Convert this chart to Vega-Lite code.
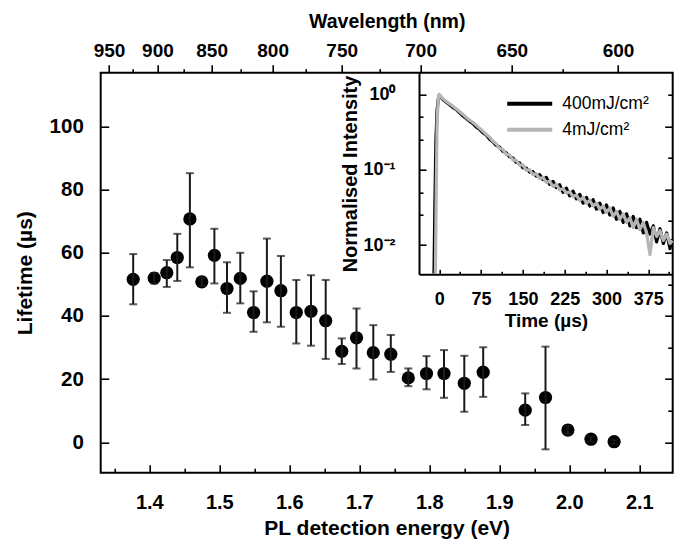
{
  "$schema": "https://vega.github.io/schema/vega-lite/v6.json",
  "width": 572,
  "height": 400,
  "autosize": "none",
  "padding": {"left": 100.7, "top": 72.7, "right": 7.3, "bottom": 71.3},
  "background": "white",
  "config": {
    "view": {"stroke": "black", "strokeWidth": 2},
    "font": "Liberation Sans",
    "axis": {
      "grid": false,
      "labelFont": "Liberation Sans",
      "titleFont": "Liberation Sans",
      "labelFontWeight": "bold",
      "titleFontWeight": "bold",
      "labelColor": "black",
      "titleColor": "black",
      "tickColor": "black",
      "domainColor": "black",
      "tickWidth": 1.6,
      "domainWidth": 2
    }
  },
  "datasets": {
    "main": [
      {"E": 1.377, "lifetime": 51.6, "lo": 43.7, "hi": 59.6},
      {"E": 1.407, "lifetime": 52.0, "lo": 50.3, "hi": 53.6},
      {"E": 1.425, "lifetime": 53.7, "lo": 49.2, "hi": 57.7},
      {"E": 1.440, "lifetime": 58.5, "lo": 51.1, "hi": 66.0},
      {"E": 1.458, "lifetime": 70.7, "lo": 55.4, "hi": 85.2},
      {"E": 1.475, "lifetime": 50.8, "lo": 49.5, "hi": 52.2},
      {"E": 1.493, "lifetime": 59.2, "lo": 50.3, "hi": 67.6},
      {"E": 1.511, "lifetime": 48.7, "lo": 41.0, "hi": 57.0},
      {"E": 1.530, "lifetime": 51.9, "lo": 44.0, "hi": 60.0},
      {"E": 1.549, "lifetime": 41.1, "lo": 35.0, "hi": 47.8},
      {"E": 1.568, "lifetime": 51.0, "lo": 38.0, "hi": 64.5},
      {"E": 1.588, "lifetime": 48.0, "lo": 36.6, "hi": 59.0},
      {"E": 1.610, "lifetime": 41.1, "lo": 31.3, "hi": 51.4},
      {"E": 1.631, "lifetime": 41.5, "lo": 30.6, "hi": 52.9},
      {"E": 1.652, "lifetime": 38.5, "lo": 26.4, "hi": 51.4},
      {"E": 1.675, "lifetime": 28.8, "lo": 24.8, "hi": 32.9},
      {"E": 1.696, "lifetime": 33.1, "lo": 23.4, "hi": 42.4},
      {"E": 1.720, "lifetime": 28.4, "lo": 19.9, "hi": 37.1},
      {"E": 1.745, "lifetime": 27.9, "lo": 22.3, "hi": 34.0},
      {"E": 1.770, "lifetime": 20.4, "lo": 17.8, "hi": 23.4},
      {"E": 1.796, "lifetime": 21.8, "lo": 16.8, "hi": 27.3},
      {"E": 1.821, "lifetime": 21.8, "lo": 14.1, "hi": 29.2},
      {"E": 1.850, "lifetime": 18.7, "lo": 9.7, "hi": 27.4},
      {"E": 1.877, "lifetime": 22.2, "lo": 14.4, "hi": 30.1},
      {"E": 1.937, "lifetime": 10.2, "lo": 5.5, "hi": 15.5},
      {"E": 1.966, "lifetime": 14.2, "lo": -2.2, "hi": 30.3},
      {"E": 1.998, "lifetime": 3.9, "lo": 2.5, "hi": 5.3},
      {"E": 2.031, "lifetime": 1.0, "lo": 0.2, "hi": 1.8},
      {"E": 2.064, "lifetime": 0.2, "lo": -0.4, "hi": 0.8}
    ],
    "decay": [
      {"series": "400mJ/cm²", "t": -9.5, "I": 0.0042},
      {"series": "400mJ/cm²", "t": -8, "I": 0.03},
      {"series": "400mJ/cm²", "t": -6, "I": 0.25},
      {"series": "400mJ/cm²", "t": -4, "I": 0.6},
      {"series": "400mJ/cm²", "t": -2, "I": 0.85},
      {"series": "400mJ/cm²", "t": 0, "I": 0.97},
      {"series": "400mJ/cm²", "t": 3, "I": 0.92},
      {"series": "400mJ/cm²", "t": 6, "I": 0.86},
      {"series": "400mJ/cm²", "t": 12, "I": 0.79},
      {"series": "400mJ/cm²", "t": 18, "I": 0.73},
      {"series": "400mJ/cm²", "t": 24, "I": 0.67},
      {"series": "400mJ/cm²", "t": 30, "I": 0.63},
      {"series": "400mJ/cm²", "t": 36, "I": 0.57},
      {"series": "400mJ/cm²", "t": 42, "I": 0.52},
      {"series": "400mJ/cm²", "t": 48, "I": 0.48},
      {"series": "400mJ/cm²", "t": 54, "I": 0.44},
      {"series": "400mJ/cm²", "t": 60, "I": 0.41},
      {"series": "400mJ/cm²", "t": 66, "I": 0.37},
      {"series": "400mJ/cm²", "t": 72, "I": 0.345},
      {"series": "400mJ/cm²", "t": 78, "I": 0.31},
      {"series": "400mJ/cm²", "t": 84, "I": 0.29},
      {"series": "400mJ/cm²", "t": 90, "I": 0.255},
      {"series": "400mJ/cm²", "t": 96, "I": 0.235},
      {"series": "400mJ/cm²", "t": 102, "I": 0.21},
      {"series": "400mJ/cm²", "t": 108, "I": 0.2},
      {"series": "400mJ/cm²", "t": 114, "I": 0.175},
      {"series": "400mJ/cm²", "t": 120, "I": 0.168},
      {"series": "400mJ/cm²", "t": 126, "I": 0.148},
      {"series": "400mJ/cm²", "t": 132, "I": 0.143},
      {"series": "400mJ/cm²", "t": 138, "I": 0.125},
      {"series": "400mJ/cm²", "t": 144, "I": 0.123},
      {"series": "400mJ/cm²", "t": 150, "I": 0.106},
      {"series": "400mJ/cm²", "t": 156, "I": 0.105},
      {"series": "400mJ/cm²", "t": 162, "I": 0.093},
      {"series": "400mJ/cm²", "t": 168, "I": 0.094},
      {"series": "400mJ/cm²", "t": 174, "I": 0.082},
      {"series": "400mJ/cm²", "t": 180, "I": 0.086},
      {"series": "400mJ/cm²", "t": 186, "I": 0.074},
      {"series": "400mJ/cm²", "t": 192, "I": 0.079},
      {"series": "400mJ/cm²", "t": 198, "I": 0.064},
      {"series": "400mJ/cm²", "t": 204, "I": 0.07},
      {"series": "400mJ/cm²", "t": 210, "I": 0.058},
      {"series": "400mJ/cm²", "t": 216, "I": 0.063},
      {"series": "400mJ/cm²", "t": 222, "I": 0.05},
      {"series": "400mJ/cm²", "t": 228, "I": 0.057},
      {"series": "400mJ/cm²", "t": 234, "I": 0.045},
      {"series": "400mJ/cm²", "t": 240, "I": 0.052},
      {"series": "400mJ/cm²", "t": 246, "I": 0.041},
      {"series": "400mJ/cm²", "t": 252, "I": 0.047},
      {"series": "400mJ/cm²", "t": 258, "I": 0.036},
      {"series": "400mJ/cm²", "t": 264, "I": 0.043},
      {"series": "400mJ/cm²", "t": 270, "I": 0.033},
      {"series": "400mJ/cm²", "t": 276, "I": 0.04},
      {"series": "400mJ/cm²", "t": 282, "I": 0.03},
      {"series": "400mJ/cm²", "t": 288, "I": 0.036},
      {"series": "400mJ/cm²", "t": 294, "I": 0.027},
      {"series": "400mJ/cm²", "t": 300, "I": 0.034},
      {"series": "400mJ/cm²", "t": 306, "I": 0.025},
      {"series": "400mJ/cm²", "t": 312, "I": 0.031},
      {"series": "400mJ/cm²", "t": 318, "I": 0.022},
      {"series": "400mJ/cm²", "t": 324, "I": 0.028},
      {"series": "400mJ/cm²", "t": 330, "I": 0.02},
      {"series": "400mJ/cm²", "t": 336, "I": 0.026},
      {"series": "400mJ/cm²", "t": 342, "I": 0.018},
      {"series": "400mJ/cm²", "t": 348, "I": 0.024},
      {"series": "400mJ/cm²", "t": 354, "I": 0.017},
      {"series": "400mJ/cm²", "t": 360, "I": 0.022},
      {"series": "400mJ/cm²", "t": 366, "I": 0.0145},
      {"series": "400mJ/cm²", "t": 372, "I": 0.02},
      {"series": "400mJ/cm²", "t": 378, "I": 0.014},
      {"series": "400mJ/cm²", "t": 384, "I": 0.018},
      {"series": "400mJ/cm²", "t": 390, "I": 0.011},
      {"series": "400mJ/cm²", "t": 396, "I": 0.0165},
      {"series": "400mJ/cm²", "t": 402, "I": 0.0105},
      {"series": "400mJ/cm²", "t": 408, "I": 0.0145},
      {"series": "400mJ/cm²", "t": 414, "I": 0.009},
      {"series": "400mJ/cm²", "t": 418, "I": 0.012},
      {"series": "4mJ/cm²", "t": -7, "I": 0.0042},
      {"series": "4mJ/cm²", "t": -5.5, "I": 0.05},
      {"series": "4mJ/cm²", "t": -4, "I": 0.4},
      {"series": "4mJ/cm²", "t": -2, "I": 0.85},
      {"series": "4mJ/cm²", "t": 0, "I": 1.0},
      {"series": "4mJ/cm²", "t": 2, "I": 0.95},
      {"series": "4mJ/cm²", "t": 6, "I": 0.88},
      {"series": "4mJ/cm²", "t": 12, "I": 0.81},
      {"series": "4mJ/cm²", "t": 18, "I": 0.75},
      {"series": "4mJ/cm²", "t": 24, "I": 0.70},
      {"series": "4mJ/cm²", "t": 30, "I": 0.64},
      {"series": "4mJ/cm²", "t": 36, "I": 0.59},
      {"series": "4mJ/cm²", "t": 42, "I": 0.545},
      {"series": "4mJ/cm²", "t": 48, "I": 0.495},
      {"series": "4mJ/cm²", "t": 54, "I": 0.455},
      {"series": "4mJ/cm²", "t": 60, "I": 0.425},
      {"series": "4mJ/cm²", "t": 66, "I": 0.39},
      {"series": "4mJ/cm²", "t": 72, "I": 0.355},
      {"series": "4mJ/cm²", "t": 78, "I": 0.325},
      {"series": "4mJ/cm²", "t": 84, "I": 0.295},
      {"series": "4mJ/cm²", "t": 90, "I": 0.27},
      {"series": "4mJ/cm²", "t": 96, "I": 0.24},
      {"series": "4mJ/cm²", "t": 102, "I": 0.22},
      {"series": "4mJ/cm²", "t": 108, "I": 0.192},
      {"series": "4mJ/cm²", "t": 114, "I": 0.185},
      {"series": "4mJ/cm²", "t": 120, "I": 0.16},
      {"series": "4mJ/cm²", "t": 126, "I": 0.157},
      {"series": "4mJ/cm²", "t": 132, "I": 0.135},
      {"series": "4mJ/cm²", "t": 138, "I": 0.133},
      {"series": "4mJ/cm²", "t": 144, "I": 0.115},
      {"series": "4mJ/cm²", "t": 150, "I": 0.116},
      {"series": "4mJ/cm²", "t": 156, "I": 0.098},
      {"series": "4mJ/cm²", "t": 162, "I": 0.1},
      {"series": "4mJ/cm²", "t": 168, "I": 0.086},
      {"series": "4mJ/cm²", "t": 174, "I": 0.088},
      {"series": "4mJ/cm²", "t": 180, "I": 0.076},
      {"series": "4mJ/cm²", "t": 186, "I": 0.079},
      {"series": "4mJ/cm²", "t": 192, "I": 0.068},
      {"series": "4mJ/cm²", "t": 198, "I": 0.07},
      {"series": "4mJ/cm²", "t": 204, "I": 0.06},
      {"series": "4mJ/cm²", "t": 210, "I": 0.064},
      {"series": "4mJ/cm²", "t": 216, "I": 0.054},
      {"series": "4mJ/cm²", "t": 222, "I": 0.056},
      {"series": "4mJ/cm²", "t": 228, "I": 0.049},
      {"series": "4mJ/cm²", "t": 234, "I": 0.051},
      {"series": "4mJ/cm²", "t": 240, "I": 0.044},
      {"series": "4mJ/cm²", "t": 246, "I": 0.046},
      {"series": "4mJ/cm²", "t": 252, "I": 0.039},
      {"series": "4mJ/cm²", "t": 258, "I": 0.043},
      {"series": "4mJ/cm²", "t": 264, "I": 0.036},
      {"series": "4mJ/cm²", "t": 270, "I": 0.039},
      {"series": "4mJ/cm²", "t": 276, "I": 0.033},
      {"series": "4mJ/cm²", "t": 282, "I": 0.036},
      {"series": "4mJ/cm²", "t": 288, "I": 0.03},
      {"series": "4mJ/cm²", "t": 294, "I": 0.033},
      {"series": "4mJ/cm²", "t": 300, "I": 0.027},
      {"series": "4mJ/cm²", "t": 306, "I": 0.031},
      {"series": "4mJ/cm²", "t": 312, "I": 0.024},
      {"series": "4mJ/cm²", "t": 318, "I": 0.028},
      {"series": "4mJ/cm²", "t": 324, "I": 0.022},
      {"series": "4mJ/cm²", "t": 330, "I": 0.026},
      {"series": "4mJ/cm²", "t": 336, "I": 0.02},
      {"series": "4mJ/cm²", "t": 342, "I": 0.023},
      {"series": "4mJ/cm²", "t": 348, "I": 0.017},
      {"series": "4mJ/cm²", "t": 354, "I": 0.022},
      {"series": "4mJ/cm²", "t": 360, "I": 0.016},
      {"series": "4mJ/cm²", "t": 366, "I": 0.02},
      {"series": "4mJ/cm²", "t": 372, "I": 0.0145},
      {"series": "4mJ/cm²", "t": 378, "I": 0.0075},
      {"series": "4mJ/cm²", "t": 384, "I": 0.017},
      {"series": "4mJ/cm²", "t": 390, "I": 0.013},
      {"series": "4mJ/cm²", "t": 396, "I": 0.0155},
      {"series": "4mJ/cm²", "t": 402, "I": 0.0115},
      {"series": "4mJ/cm²", "t": 408, "I": 0.014},
      {"series": "4mJ/cm²", "t": 414, "I": 0.0105},
      {"series": "4mJ/cm²", "t": 418, "I": 0.0115}
    ]
  },
  "layer": [
    {
      "data": {"name": "main"},
      "layer": [
        {
          "mark": {"type": "point", "filled": true, "size": 175, "color": "black", "opacity": 1},
          "encoding": {
            "x": {
              "field": "E", "type": "quantitative",
              "scale": {"domain": [1.3306, 2.1477], "nice": false, "zero": false},
              "axis": {
                "orient": "bottom",
                "title": "PL detection energy (eV)",
                "values": [1.4, 1.5, 1.6, 1.7, 1.8, 1.9, 2.0, 2.1],
                "format": ".1f",
                "tickSize": -8,
                "domain": false,
                "labelPadding": 28,
                "labelFontSize": 20,
                "titleFontSize": 21,
                "titlePadding": 5,
                "labelFlush": false,
                "labelOverlap": false
              }
            },
            "y": {
              "field": "lifetime", "type": "quantitative",
              "scale": {"domain": [-9.6, 117], "nice": false, "zero": false},
              "axis": {
                "orient": "left",
                "title": "Lifetime (µs)",
                "values": [0, 10, 20, 30, 40, 50, 60, 70, 80, 90, 100, 110],
                "labelExpr": "datum.value % 20 === 0 ? datum.label : ''",
                "tickSize": {"condition": {"test": "datum.value % 20 === 0", "value": -8}, "value": -5},
                "domain": false,
                "labelPadding": 25.4,
                "labelFontSize": 20.5,
                "titleFontSize": 21,
                "titlePadding": 14,
                "labelFlush": false,
                "labelOverlap": false
              }
            }
          }
        },
        {
          "mark": {"type": "errorbar", "ticks": {"size": 8, "thickness": 2}, "rule": {"strokeWidth": 2}, "color": "#1a1a1a"},
          "encoding": {
            "x": {"field": "E", "type": "quantitative"},
            "y": {"field": "lo", "type": "quantitative", "title": "Lifetime (µs)"},
            "y2": {"field": "hi"}
          }
        }
      ]
    },
    {
      "data": {"name": "main"},
      "mark": {"type": "point", "opacity": 0},
      "encoding": {
        "x": {
          "field": "E", "type": "quantitative",
          "scale": {"domain": [1.3306, 2.1477], "nice": false, "zero": false},
          "axis": {
            "orient": "top",
            "title": "Wavelength (nm)",
            "values": [1.34243, 1.37612, 1.41168, 1.44927, 1.48908, 1.53129, 1.57615, 1.6239, 1.67483, 1.72928, 1.78761, 1.85027, 1.91775, 1.99062, 2.06957],
            "labelExpr": "round(1184.2/(datum.value-0.0959)) % 50 === 0 ? format(round(1184.2/(datum.value-0.0959)), 'd') : ''",
            "tickSize": {"condition": {"test": "round(1184.2/(datum.value-0.0959)) % 50 === 0", "value": 8}, "value": 4},
            "domain": false,
            "labelPadding": 4,
            "labelFontSize": 19,
            "titleFontSize": 19.5,
            "titlePadding": 10,
            "labelFlush": false,
            "labelOverlap": false
          }
        },
        "y": {
          "field": "lifetime", "type": "quantitative",
          "scale": {"domain": [-9.6, 117], "nice": false, "zero": false},
          "axis": {
            "orient": "right",
            "title": null,
            "labels": false,
            "values": [0, 10, 20, 30, 40, 50, 60, 70, 80, 90, 100, 110],
            "tickSize": {"condition": {"test": "datum.value % 20 === 0", "value": -8}, "value": -5},
            "domain": false
          }
        }
      }
    },
    {
      "data": {"name": "main"},
      "mark": {"type": "point", "opacity": 0},
      "encoding": {
        "x": {
          "field": "E", "type": "quantitative",
          "scale": {"domain": [1.3306, 2.1477], "nice": false, "zero": false},
          "axis": {
            "orient": "bottom",
            "title": null,
            "labels": false,
            "values": [1.35, 1.45, 1.55, 1.65, 1.75, 1.85, 1.95, 2.05],
            "tickSize": -4.5,
            "domain": false
          }
        },
        "y": {
          "field": "lifetime", "type": "quantitative",
          "scale": {"domain": [-9.6, 117], "nice": false, "zero": false},
          "axis": null
        }
      }
    },
    {
      "data": {"name": "decay"},
      "mark": {"type": "line", "strokeWidth": 3.2, "strokeJoin": "round"},
      "encoding": {
        "x": {
          "field": "t", "type": "quantitative",
          "scale": {"domain": [-36.4, 418.8], "range": [318.3, 572], "nice": false, "zero": false},
          "axis": {
            "orient": "bottom",
            "offset": -198.4,
            "title": "Time (µs)",
            "values": [0, 37.5, 75, 112.5, 150, 187.5, 225, 262.5, 300, 337.5, 375, 412.5],
            "labelExpr": "datum.value % 75 === 0 ? datum.label : ''",
            "tickSize": {"condition": {"test": "datum.value % 75 === 0", "value": -5}, "value": -3},
            "domain": true,
            "labelPadding": 20.7,
            "labelFontSize": 18,
            "titleFontSize": 19,
            "titlePadding": 1,
            "labelFlush": false,
            "labelOverlap": false
          }
        },
        "y": {
          "field": "I", "type": "quantitative",
          "scale": {"type": "log", "domain": [0.0041, 1.93], "range": [201.6, 0], "nice": false},
          "axis": {
            "orient": "left",
            "offset": -318.3,
            "title": "Normalised Intensity",
            "values": [0.01, 0.025, 0.05, 0.1, 0.25, 0.5, 1],
            "labelExpr": "datum.value === 1 ? '10⁰' : datum.value === 0.1 ? '10⁻¹' : datum.value === 0.01 ? '10⁻²' : ''",
            "tickSize": {"condition": {"test": "datum.value === 1 || datum.value === 0.1 || datum.value === 0.01", "value": -7}, "value": -4},
            "domain": true,
            "labelPadding": 31,
            "labelFontSize": 18,
            "titleFontSize": 20,
            "titlePadding": 2,
            "labelFlush": false,
            "labelOverlap": false
          }
        },
        "color": {
          "field": "series", "type": "nominal",
          "scale": {"domain": ["400mJ/cm²", "4mJ/cm²"], "range": ["black", "#b5b5b5"]},
          "legend": {
            "orient": "none",
            "legendX": 418,
            "legendY": 20,
            "title": null,
            "padding": 0,
            "symbolType": "M-2.5,0H2.5",
            "symbolSize": 324,
            "symbolStrokeWidth": 4,
            "labelFontSize": 17.5,
            "labelFont": "Liberation Sans",
            "labelColor": "black",
            "labelOffset": 21.5,
            "rowPadding": 6
          }
        }
      }
    }
  ],
  "resolve": {
    "scale": {"x": "independent", "y": "independent", "color": "independent"},
    "axis": {"x": "independent", "y": "independent"}
  }
}
